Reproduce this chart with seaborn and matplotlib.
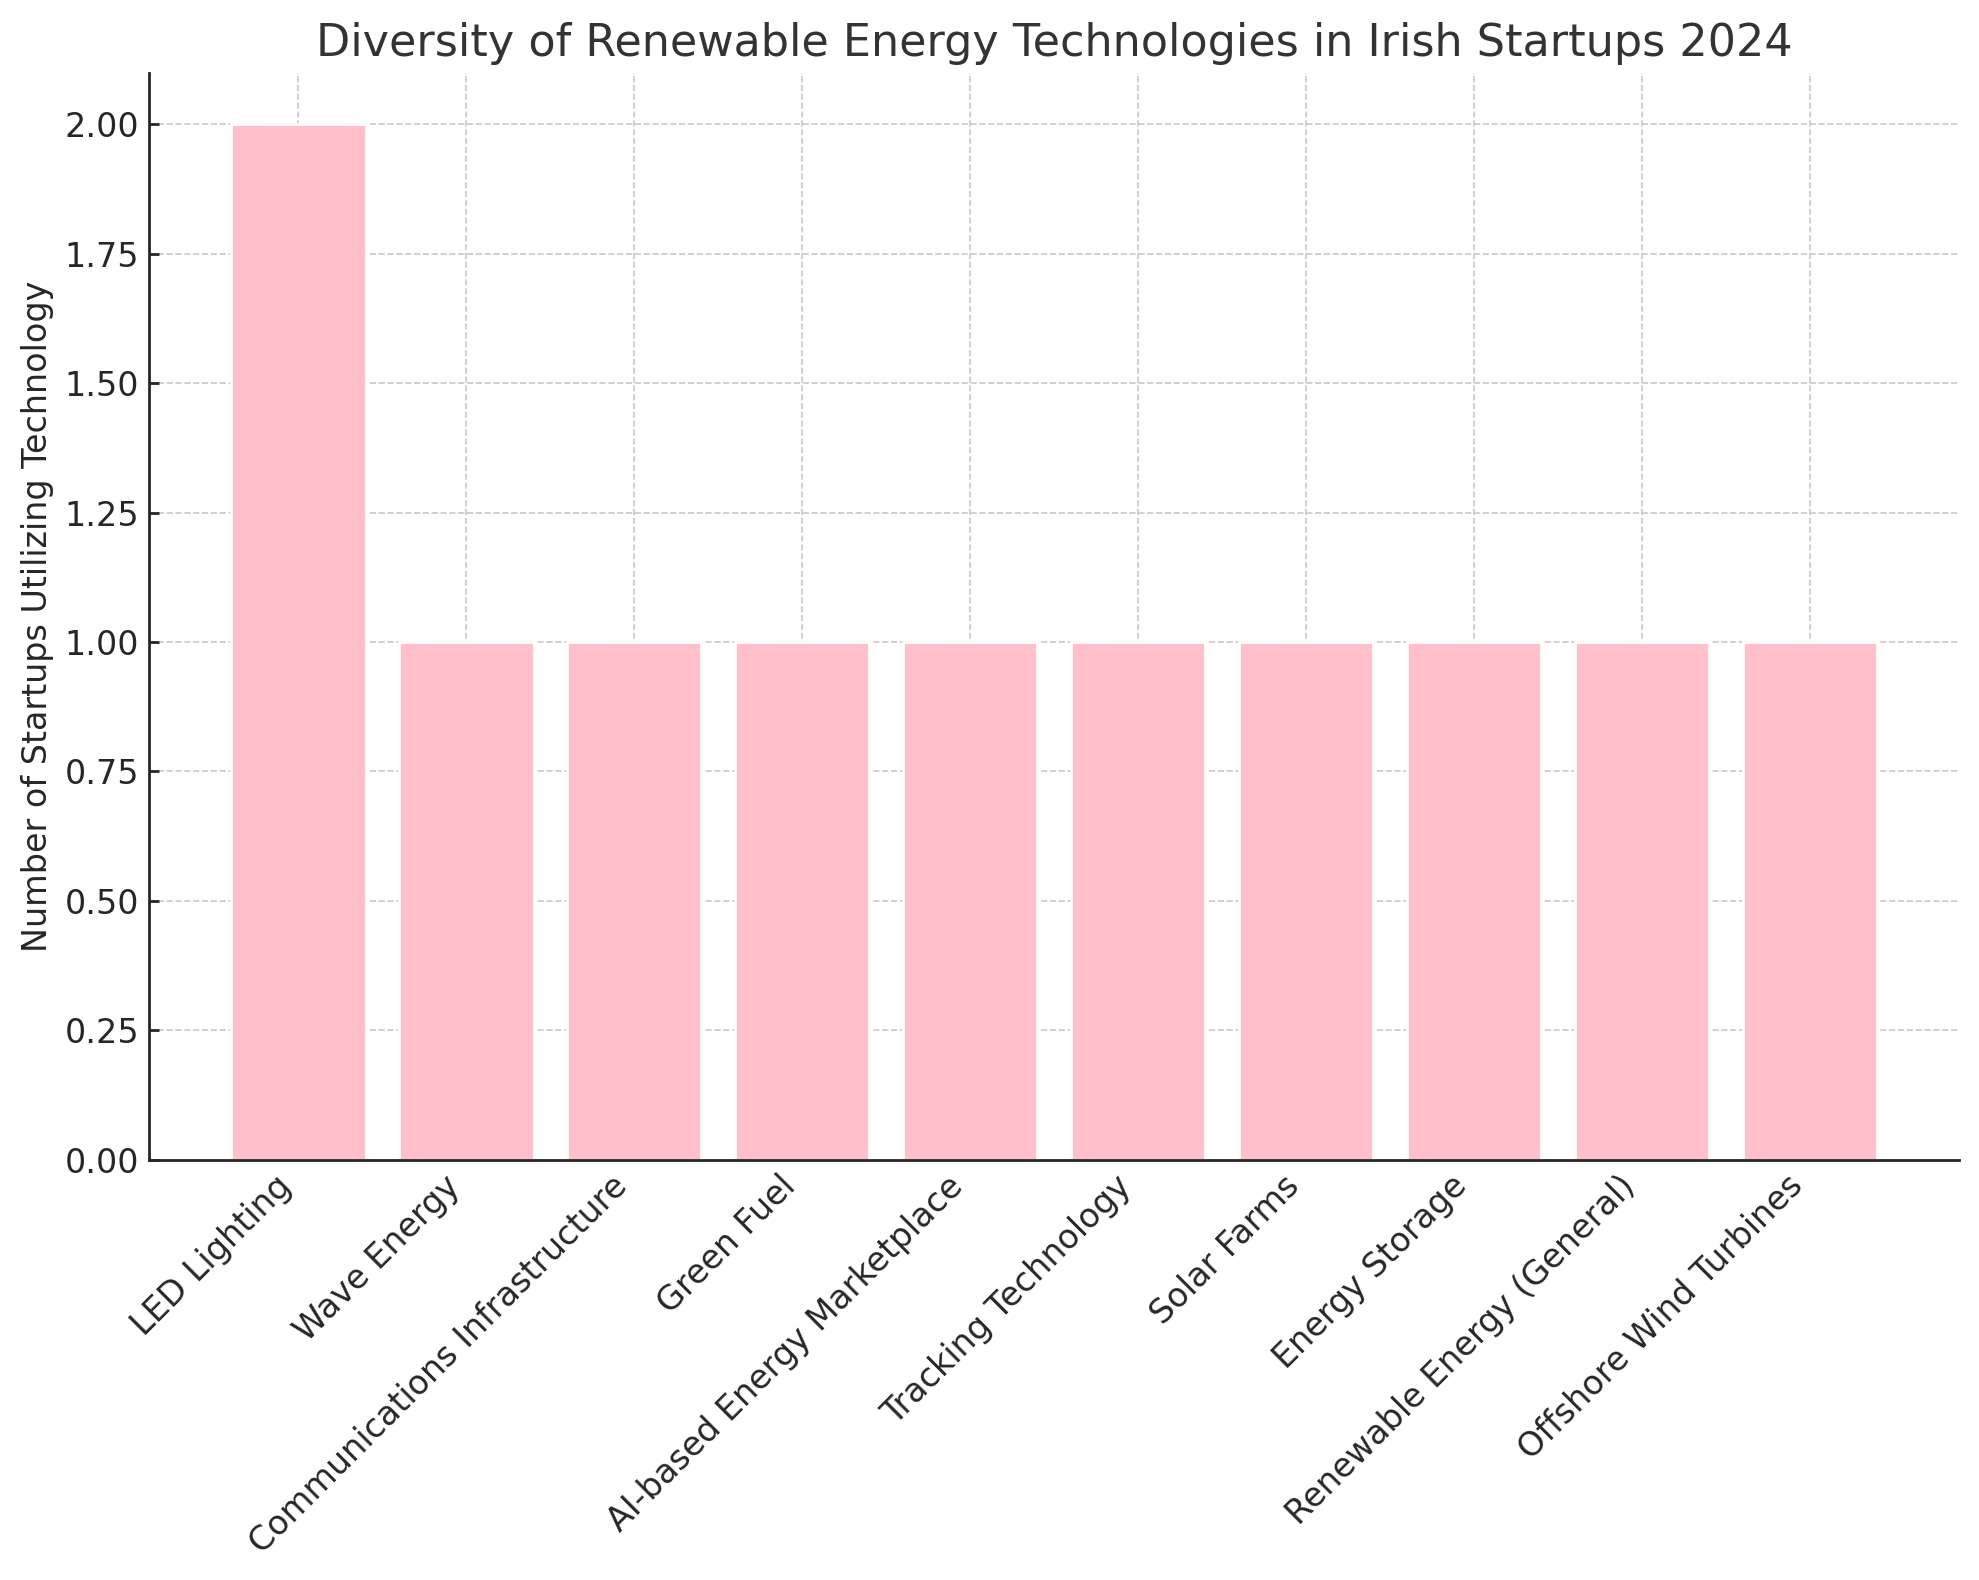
import numpy as np
import pandas as pd
import matplotlib
matplotlib.use("Agg")
import matplotlib.pyplot as plt
import seaborn as sns

# Data
technologies = ['LED Lighting', 'Wave Energy', 'Communications Infrastructure',
                'Green Fuel', 'AI-based Energy Marketplace', 'Tracking Technology',
                'Solar Farms', 'Energy Storage', 'Renewable Energy (General)',
                'Offshore Wind Turbines']
startup_counts = [2, 1, 1, 1, 1, 1, 1, 1, 1, 1]

df = pd.DataFrame({'Technology': technologies, 'Count': startup_counts})

sns.set_style("ticks")
plt.rcParams['font.family'] = ['DejaVu Sans']

fig, ax = plt.subplots(figsize=(9.895, 7.9), dpi=200)
fig.subplots_adjust(left=0.0753, right=0.990, top=0.954, bottom=0.266)

sns.barplot(data=df, x='Technology', y='Count', color='#FFC0CB',
            saturation=1, width=0.8, ax=ax)

# matplotlib-style margins around the bars
n = len(technologies)
margin = 0.05 * (n - 1 + 0.8)
ax.set_xlim(-0.4 - margin, n - 1 + 0.4 + margin)
ax.set_ylim(0, 2.1)
ax.set_yticks(np.arange(0, 2.01, 0.25))
ax.yaxis.set_major_formatter(matplotlib.ticker.FormatStrFormatter('%.2f'))

# dashed grid drawn over the bars, under the spines
ax.grid(True, axis='both', linestyle='--', color='#c8c8c8', linewidth=0.6, zorder=2)
for p in ax.patches:
    p.set_zorder(1)

ax.set_title('Diversity of Renewable Energy Technologies in Irish Startups 2024',
             fontsize=16, color='#333333')
ax.set_xlabel('')
ax.set_ylabel('Number of Startups Utilizing Technology', fontsize=12, color='#262626')
ax.tick_params(axis='both', direction='in', labelsize=12, colors='#262626',
               length=3.5, width=1)
plt.setp(ax.get_xticklabels(), rotation=45, ha='right')

sns.despine(ax=ax)
for s in ['left', 'bottom']:
    ax.spines[s].set_linewidth(1.0)
    ax.spines[s].set_color('#262626')
    ax.spines[s].set_zorder(3)

fig.savefig('out.png', dpi=200)
